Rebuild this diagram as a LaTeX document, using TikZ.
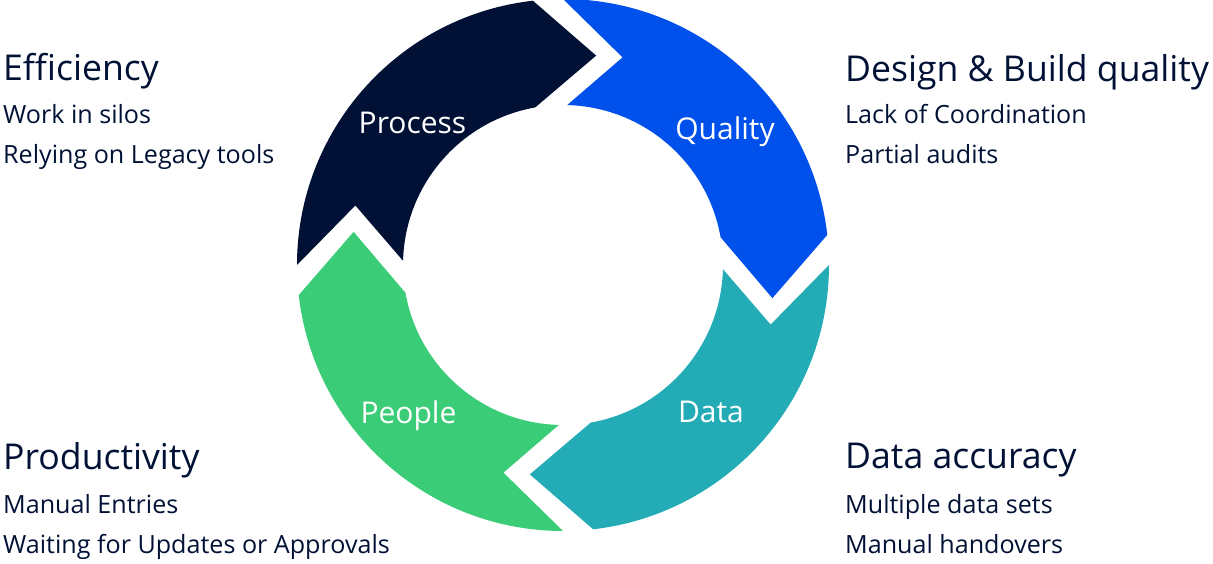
\documentclass[tikz,border=0pt]{standalone}
\usepackage{fontspec}
\setmainfont{Open Sans}
\definecolor{navy}{HTML}{001135}
\definecolor{qblue}{HTML}{0050EB}
\definecolor{dteal}{HTML}{24ACB6}
\definecolor{pgreen}{HTML}{3ACC76}
\tikzset{
  seglabel/.style={text=white, font=\fontsize{30}{36}\selectfont, inner sep=0pt, anchor=base},
  head/.style={text=navy, font=\fontsize{35.6}{42}\selectfont, inner sep=0pt, anchor=base west},
  sub/.style={text=navy, font=\fontsize{25.1}{30}\selectfont, inner sep=0pt, anchor=base west}
}
\newcommand{\cyclearrow}[2]{%
  \fill[#2] (#1:266) arc[start angle=#1, end angle=#1-83.5, radius=266]
    -- (#1-99:212) -- (#1-80:160)
    arc[start angle=#1-80, end angle=#1-1.5, radius=160]
    -- (#1-16:216) -- cycle;}
\begin{document}
\begin{tikzpicture}[x=1pt,y=1pt]
\useasboundingbox (0,0) rectangle (1213,563);
\coordinate (c) at (563,298);
\begin{scope}[shift={(c)}]
  \cyclearrow{180}{navy}
  \cyclearrow{90}{qblue}
  \cyclearrow{0}{dteal}
  \cyclearrow{-90}{pgreen}
\end{scope}
\node[seglabel] (lproc) at (412.5,429) {Process};
\node[seglabel] (lqual) at (725,423) {Quality};
\node[seglabel] (lpeop) at (408.5,140) {People};
\node[seglabel] (ldata) at (711,141) {Data};
% top left
\node[head] (h1) at (3,482) {Efficiency};
\node[sub] (h1a) at (3,439) {Work in silos};
\node[sub] (h1b) at (3,399) {Relying on Legacy tools};
% top right
\node[head] (h2) at (845,481) {Design \& Build quality};
\node[sub] (h2a) at (845,439) {Lack of Coordination};
\node[sub] (h2b) at (845,399) {Partial audits};
% bottom left
\node[head] (h3) at (3,94) {Productivity};
\node[sub] (h3a) at (3,50) {Manual Entries};
\node[sub] (h3b) at (3,10) {Waiting for Updates or Approvals};
% bottom right
\node[head] (h4) at (845,95) {Data accuracy};
\node[sub] (h4a) at (845,50) {Multiple data sets};
\node[sub] (h4b) at (845,10) {Manual handovers};
\end{tikzpicture}
\end{document}
